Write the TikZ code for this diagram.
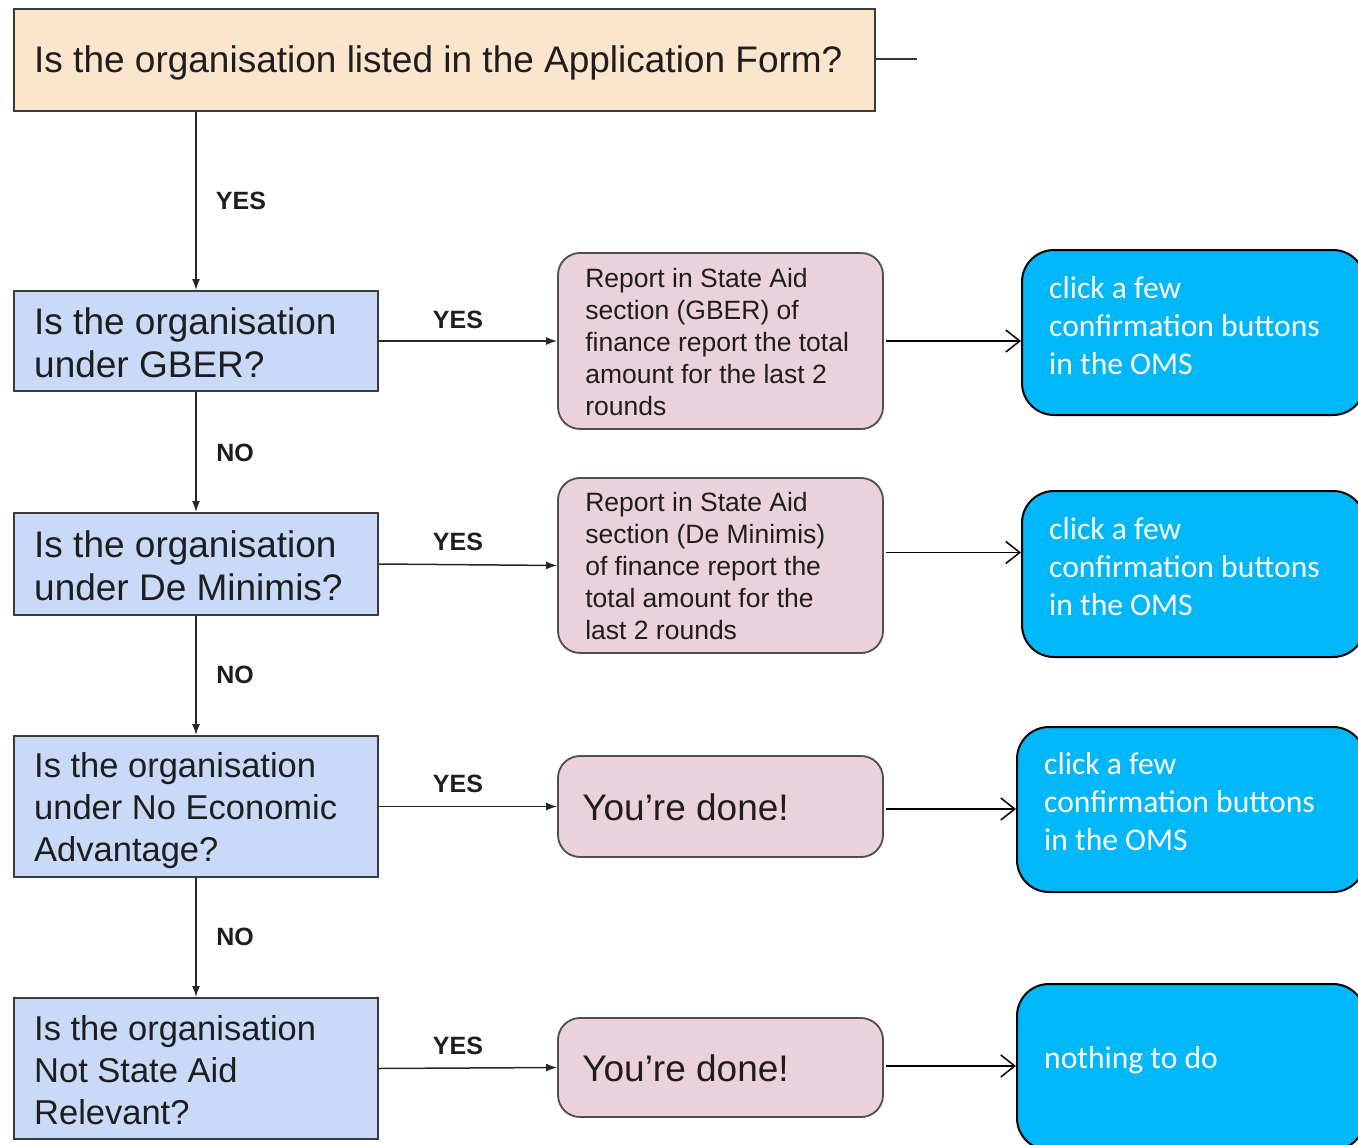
\documentclass[tikz,border=0pt]{standalone}
\usepackage{fontspec}
\setmainfont{Liberation Sans}
\newfontfamily\calib{Carlito}
\usetikzlibrary{arrows.meta}
\definecolor{peach}{HTML}{FCE5CD}
\definecolor{lblue}{HTML}{C9DAF8}
\definecolor{pinkc}{HTML}{EAD1DC}
\definecolor{bluec}{RGB}{0,183,250}
\definecolor{txtc}{HTML}{1E1E1E}
\definecolor{brd}{HTML}{3A3A3A}
\begin{document}
\begin{tikzpicture}[x=1pt,y=-1pt,
  qbox/.style={draw=brd,line width=2pt,fill=lblue,inner sep=0pt,minimum width=364pt},
  topbox/.style={draw=brd,line width=2pt,fill=peach,inner sep=0pt},
  pbox/.style={draw=brd!90,line width=1.8pt,fill=pinkc,rounded corners=22pt,inner sep=0pt,minimum width=325pt},
  bbox/.style={draw=black,line width=2pt,fill=bluec,rounded corners=32pt,inner sep=0pt},
  qtext/.style={inner sep=0pt,anchor=west,align=left,text=txtc,font=\fontsize{37pt}{43pt}\selectfont},
  qtexts/.style={inner sep=0pt,anchor=west,align=left,text=txtc,font=\fontsize{34.5pt}{42pt}\selectfont},
  ptext/.style={inner sep=0pt,anchor=west,align=left,text=txtc,font=\fontsize{26.5pt}{32pt}\selectfont},
  dtext/.style={inner sep=0pt,anchor=west,align=left,text=txtc,font=\fontsize{37pt}{43pt}\selectfont},
  btext/.style={inner sep=0pt,anchor=west,align=left,text=white,font=\calib\fontsize{31.6pt}{38pt}\selectfont},
  lab/.style={inner sep=0pt,text=txtc,font=\bfseries\fontsize{25pt}{30pt}\selectfont},
  smallarrow/.style={draw=black!85,line width=1.5pt,-{Latex[length=11pt,width=8pt]}},
  openarrow/.style={draw=black,line width=1.5pt,-{Straight Barb[length=14pt,width=22pt,line width=1.5pt]}}
]
\useasboundingbox (0,0) rectangle (1358,1145);
\clip (0,0) rectangle (1358,1145);
\fill[white] (0,0) rectangle (1358,1145);

% top box
\node[topbox,minimum width=861pt,minimum height=102pt] (top) at (444.5,60) {};
\node[qtext] (ttop) at ([xshift=21pt,yshift=-3pt]top.west) {Is the organisation listed in the Application Form?};
\coordinate (stub) at (917,59);
\draw[draw=brd,line width=1.8pt] ([yshift=1pt]top.east) -- (stub);

% left question boxes
\node[qbox,minimum height=100pt] (gber) at (196,341) {};
\node[qtext] (tgber) at ([xshift=21pt,yshift=-2pt]gber.west) {Is the organisation\\under GBER?};
\node[qbox,minimum height=102pt] (dm) at (196,564) {};
\node[qtext] (tdm) at ([xshift=21pt,yshift=-2pt]dm.west) {Is the organisation\\under De Minimis?};
\node[qbox,minimum height=141pt] (nea) at (196,806.5) {};
\node[qtexts] (tnea) at ([xshift=21pt,yshift=-4pt]nea.west) {Is the organisation\\under No Economic\\Advantage?};
\node[qbox,minimum height=141pt] (nsar) at (196,1068.5) {};
\node[qtexts] (tnsar) at ([xshift=21pt,yshift=-2pt]nsar.west) {Is the organisation\\Not State Aid\\Relevant?};

% pink boxes
\node[pbox,minimum height=176pt] (p1) at (720.5,341) {};
\node[ptext] (tp1) at ([xshift=28pt,yshift=-1pt]p1.west) {Report in State Aid\\section (GBER) of\\finance report the total\\amount for the last 2\\rounds};
\node[pbox,minimum height=175pt] (p2) at (720.5,565.5) {};
\node[ptext] (tp2) at ([xshift=28pt,yshift=-1pt]p2.west) {Report in State Aid\\section (De Minimis)\\of finance report the\\total amount for the\\last 2 rounds};
\node[pbox,minimum height=101pt] (p3) at (720.5,806.5) {};
\node[dtext] (tp3) at ([xshift=25pt,yshift=-1pt]p3.west) {You’re done!};
\node[pbox,minimum height=99pt] (p4) at (720.5,1067.5) {};
\node[dtext] (tp4) at ([xshift=25pt,yshift=-1pt]p4.west) {You’re done!};

% blue boxes
\node[bbox,minimum width=343pt,minimum height=165pt] (b1) at (1193.5,332.5) {};
\node[btext] (tb1) at ([xshift=28pt,yshift=6.5pt]b1.west) {click a few\\confirmation buttons\\in the OMS};
\node[bbox,minimum width=343pt,minimum height=166pt] (b2) at (1193.5,574) {};
\node[btext] (tb2) at ([xshift=28pt,yshift=7pt]b2.west) {click a few\\confirmation buttons\\in the OMS};
\node[bbox,minimum width=348pt,minimum height=165pt] (b3) at (1191,809.5) {};
\node[btext] (tb3) at ([xshift=28pt,yshift=7.5pt]b3.west) {click a few\\confirmation buttons\\in the OMS};
\node[bbox,minimum width=348pt,minimum height=166pt] (b4) at (1191,1067) {};
\node[btext] (tb4) at ([xshift=28pt,yshift=7pt]b4.west) {nothing to do};

% vertical connectors
\draw[smallarrow] (top.south -| gber.north) -- (gber.north);
\draw[smallarrow] (gber.south) -- (dm.north);
\draw[smallarrow] (dm.south) -- (nea.north);
\draw[smallarrow] (nea.south) -- (nsar.north);

% horizontal connectors
\draw[smallarrow] (gber.east) -- (p1.west);
\draw[smallarrow] (dm.east) -- (p2.west);
\draw[smallarrow] (nea.east) -- (p3.west);
\draw[smallarrow] (nsar.east) -- (p4.west);

\draw[openarrow] ([xshift=2pt]p1.east) -- (p1.east -| b1.west);
\draw[openarrow] ([xshift=2pt,yshift=13pt]p2.east) -- ([yshift=13pt]p2.east -| b2.west);
\draw[openarrow] ([xshift=2pt,yshift=-2.5pt]p3.east) -- ([yshift=-2.5pt]p3.east -| b3.west);
\draw[openarrow] ([xshift=2pt,yshift=1.5pt]p4.east) -- ([yshift=1.5pt]p4.east -| b4.west);

% labels
\node[lab] (l0) at (241,201) {YES};
\node[lab] (l1) at (235,453) {NO};
\node[lab] (l2) at (235,675) {NO};
\node[lab] (l3) at (235,937) {NO};
\node[lab] (y1) at (458,320) {YES};
\node[lab] (y2) at (458,542) {YES};
\node[lab] (y3) at (458,784) {YES};
\node[lab] (y4) at (458,1046) {YES};
\end{tikzpicture}
\end{document}
